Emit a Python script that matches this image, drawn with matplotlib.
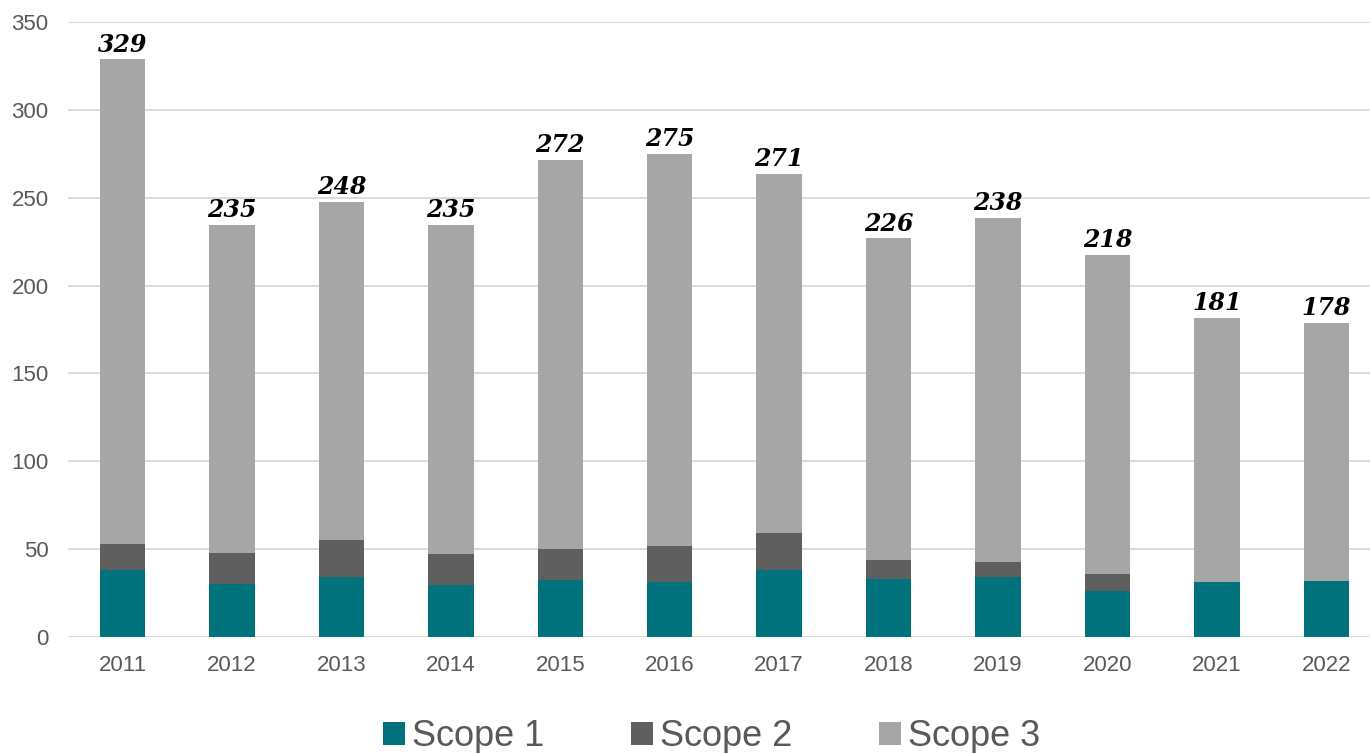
import matplotlib.pyplot as plt
import numpy as np

years = ['2011', '2012', '2013', '2014', '2015', '2016',
         '2017', '2018', '2019', '2020', '2021', '2022']
scope1 = [38.2, 30.4, 34.2, 29.5, 32.4, 31.6, 38.2, 33.2, 34.2, 26.4, 31.1, 32.0]
scope2 = [14.9, 17.4, 20.8, 17.5, 17.5, 20.4, 20.8, 10.6, 8.6, 9.7, 0.0, 0.0]
totals = [328.8, 234.7, 247.8, 234.7, 271.5, 274.9, 263.5, 227.0, 238.5, 217.5, 181.7, 178.9]
labels = ['329', '235', '248', '235', '272', '275', '271', '226', '238', '218', '181', '178']

s1 = np.array(scope1)
s2 = np.array(scope2)
s3 = np.array(totals) - s1 - s2

fig = plt.figure(figsize=(13.7, 7.53), dpi=100)
ax = fig.add_axes([0.0496, 0.154, 0.9504, 0.8167])

x = np.arange(len(years))
w = 0.415
ax.bar(x, s1, w, color='#00727B', label='Scope 1', zorder=3)
ax.bar(x, s2, w, bottom=s1, color='#5F5F5F', label='Scope 2', zorder=3)
ax.bar(x, s3, w, bottom=s1 + s2, color='#A6A6A6', label='Scope 3', zorder=3)

# data labels on top of the stack
for xi, t, lab in zip(x, totals, labels):
    ax.text(xi, t + 1.5, lab, ha='center', va='bottom', fontsize=17,
            fontweight='bold', fontstyle='italic', family='DejaVu Serif',
            color='black', zorder=4)

ax.set_xlim(-0.5, 11.4)
ax.set_ylim(0, 350)
ax.set_yticks(np.arange(0, 351, 50))
ax.set_xticks(x)
ax.set_xticklabels(years)
ax.yaxis.grid(True, color='#D9D9D9', linewidth=1.3, zorder=0)
ax.set_axisbelow(True)

for s in ['top', 'right', 'left', 'bottom']:
    ax.spines[s].set_visible(False)
ax.tick_params(axis='both', length=0, labelsize=16, labelcolor='#595959')
ax.tick_params(axis='x', pad=13)
ax.tick_params(axis='y', pad=14)
for t in ax.get_xticklabels() + ax.get_yticklabels():
    t.set_family('Liberation Sans')

leg = fig.legend(loc='center', bbox_to_anchor=(0.5195, 0.022), ncol=3, frameon=False,
                 prop={'family': 'Liberation Sans', 'size': 26},
                 handlelength=0.6, handleheight=0.6, handletextpad=0.2,
                 columnspacing=2.4)
for t in leg.get_texts():
    t.set_color('#595959')

fig.savefig('out.png', dpi=100)
